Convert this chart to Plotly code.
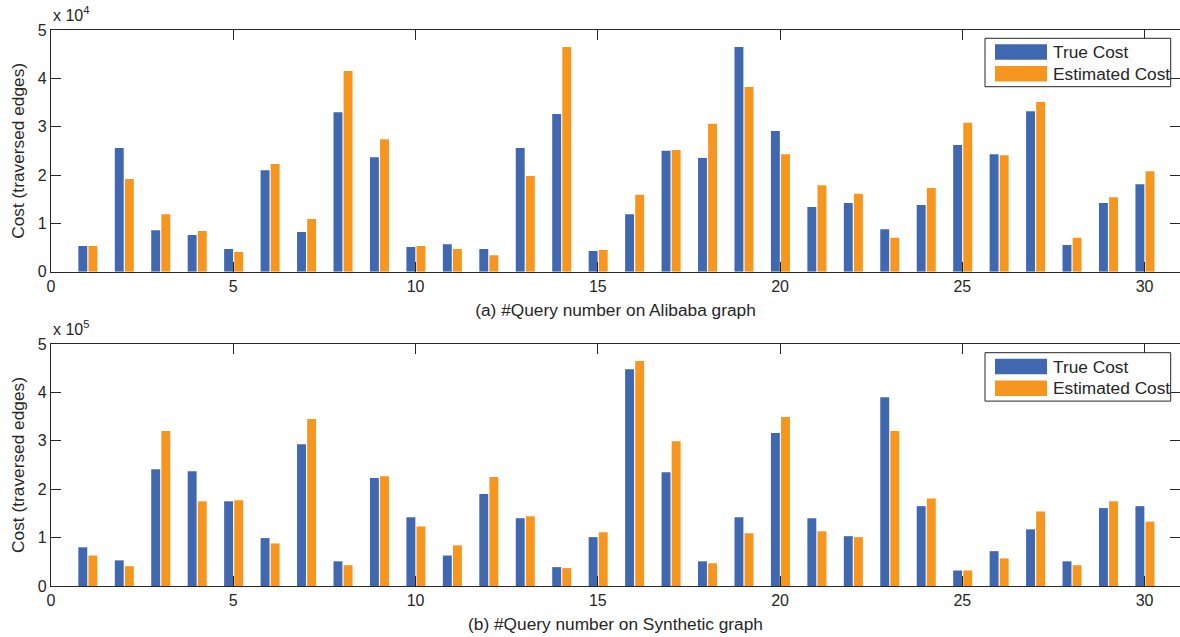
import plotly.graph_objects as go

queries = list(range(1, 31))

# (a) Alibaba graph, cost in traversed edges
true_cost_a = [5300, 25600, 8600, 7600, 4700, 21000, 8200, 33000, 23700, 5100,
               5700, 4700, 25600, 32600, 4300, 11900, 25000, 23500, 46500, 29100,
               13400, 14200, 8800, 13800, 26200, 24300, 33200, 5500, 14200, 18100]
est_cost_a = [5300, 19200, 11900, 8400, 4100, 22300, 10900, 41500, 27400, 5300,
              4700, 3400, 19800, 46500, 4500, 15900, 25200, 30600, 38200, 24300,
              17900, 16100, 7000, 17300, 30800, 24100, 35100, 7000, 15400, 20800]

# (b) Synthetic graph
true_cost_b = [80000, 53000, 241000, 237000, 175000, 99000, 293000, 51000, 223000, 142000,
               63000, 190000, 140000, 39000, 101000, 448000, 235000, 51000, 142000, 316000,
               140000, 103000, 390000, 165000, 32000, 72000, 117000, 51000, 161000, 165000]
est_cost_b = [63000, 41000, 320000, 175000, 177000, 88000, 345000, 43000, 227000, 123000,
              84000, 225000, 144000, 37000, 111000, 465000, 299000, 47000, 109000, 349000,
              113000, 101000, 320000, 181000, 32000, 57000, 154000, 43000, 175000, 133000]

series_names = ["True Cost", "Estimated Cost"]
x_ticks = [0, 5, 10, 15, 20, 25, 30]
y_tick_labels = ["0", "1", "2", "3", "4", "5"]
scale_a = 1e4
scale_b = 1e5

BLUE = "#4068B0"
ORANGE = "#F7961F"
TXT = "#262626"
FONT = "Liberation Sans, Arial, sans-serif"

W, H = 1180, 637
L = 51
PW = W - L
top_dom = [1 - 271.7 / H, 1 - 30 / H]
bot_dom = [1 - 586 / H, 1 - 344 / H]

fig = go.Figure()


def add_pair(tc, ec, xa, ya):
    fig.add_trace(go.Bar(x=queries, y=tc, name=series_names[0], marker_color=BLUE,
                         marker_line_width=0, offset=-0.25, width=0.245,
                         xaxis=xa, yaxis=ya, showlegend=False))
    fig.add_trace(go.Bar(x=queries, y=ec, name=series_names[1], marker_color=ORANGE,
                         marker_line_width=0, offset=0.027, width=0.245,
                         xaxis=xa, yaxis=ya, showlegend=False))


add_pair(true_cost_a, est_cost_a, "x", "y")
add_pair(true_cost_b, est_cost_b, "x2", "y2")

axis_common = dict(showgrid=False, zeroline=False, showline=True, linecolor="#262626",
                   linewidth=1.2, mirror="ticks", ticks="inside", ticklen=10,
                   tickcolor="#262626", tickwidth=1, automargin=False,
                   tickfont=dict(family=FONT, size=16, color=TXT))
title_font = dict(family=FONT, size=17.3, color=TXT)

xr = [0, (PW + 1.5) / 36.5]


def px_x(p):
    return (p - L) / PW


def px_y(p):
    return 1 - p / H


shapes = []
annotations = []
for dy, sup in [(0, "4"), (314.4, "5")]:
    # legend box
    shapes.append(dict(type="rect", xref="paper", yref="paper",
                       x0=px_x(985), x1=px_x(1170.7), y0=px_y(86.7 + dy), y1=px_y(38.3 + dy),
                       line=dict(color="#262626", width=1), fillcolor="white", layer="above"))
    for i, (col, name) in enumerate(zip([BLUE, ORANGE], series_names)):
        y0 = 44.3 + dy + i * 21.7
        shapes.append(dict(type="rect", xref="paper", yref="paper",
                           x0=px_x(995), x1=px_x(1047), y0=px_y(y0 + 15.5), y1=px_y(y0),
                           line=dict(width=0), fillcolor=col, layer="above"))
        annotations.append(dict(text=name, xref="paper", yref="paper",
                                x=px_x(1051), y=px_y(y0 + 7.8), xanchor="left", yanchor="middle",
                                showarrow=False, font=dict(family=FONT, size=17.3, color=TXT)))
    annotations.append(dict(text="x 10<sup>" + sup + "</sup>", xref="paper", yref="paper",
                            x=0, y=px_y(26 + dy), xanchor="left", yanchor="bottom",
                            showarrow=False, font=dict(family=FONT, size=16, color=TXT)))

fig.update_layout(
    width=W, height=H, barmode="overlay",
    margin=dict(l=L, r=0, t=0, b=0, autoexpand=False),
    paper_bgcolor="white", plot_bgcolor="white",
    font=dict(family=FONT, color=TXT),
    xaxis=dict(**axis_common, domain=[0, 1], range=xr, tickvals=x_ticks, anchor="y",
               title=dict(text="(a) #Query number on Alibaba graph", font=title_font, standoff=9)),
    yaxis=dict(**axis_common, domain=top_dom, range=[0, 5 * scale_a], anchor="x",
               tickvals=[i * scale_a for i in range(6)], ticktext=y_tick_labels,
               title=dict(text="Cost (traversed edges)", font=title_font, standoff=8)),
    xaxis2=dict(**axis_common, domain=[0, 1], range=xr, tickvals=x_ticks, anchor="y2",
                title=dict(text="(b) #Query number on Synthetic graph", font=title_font, standoff=9)),
    yaxis2=dict(**axis_common, domain=bot_dom, range=[0, 5 * scale_b], anchor="x2",
                tickvals=[i * scale_b for i in range(6)], ticktext=y_tick_labels,
                title=dict(text="Cost (traversed edges)", font=title_font, standoff=8)),
    shapes=shapes,
    annotations=annotations,
)

fig.write_html("out.html", config={"displayModeBar": False},
               post_script="document.body.style.margin='0';document.body.style.overflow='hidden';")
